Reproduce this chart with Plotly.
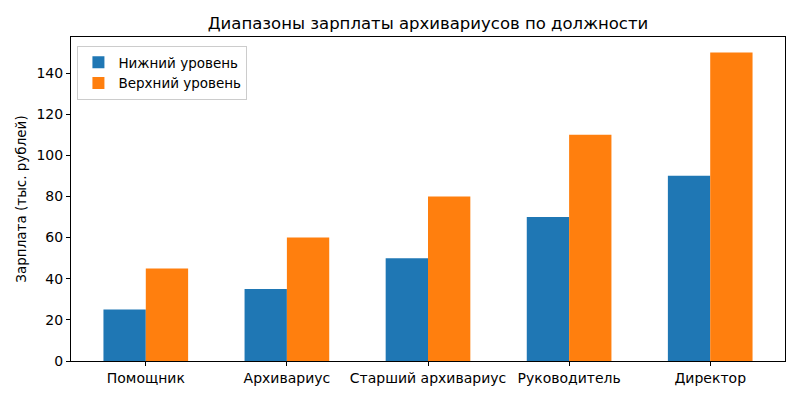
import plotly.graph_objects as go

categories = ["Помощник", "Архивариус", "Старший архивариус", "Руководитель", "Директор"]
lower = [25, 35, 50, 70, 90]
upper = [45, 60, 80, 110, 150]
positions = list(range(len(categories)))

# page body has an 8px margin, so the figure is drawn offset by (8, 8)
fig = go.Figure()
fig.add_trace(go.Bar(x=positions, y=lower, name="Нижний уровень", width=0.3, offset=-0.3,
                     marker=dict(color="#1f77b4", line=dict(width=0))))
fig.add_trace(go.Bar(x=positions, y=upper, name="Верхний уровень", width=0.3, offset=0,
                     marker=dict(color="#ff7f0e", line=dict(width=0))))

fig.update_layout(
    width=800, height=400,
    barmode="overlay",
    margin=dict(l=63, r=23, t=29, b=47, autoexpand=False),
    paper_bgcolor="white", plot_bgcolor="white",
    font=dict(family="DejaVu Sans", size=14, color="black"),
    title=dict(text="Диапазоны зарплаты архивариусов по должности", x=0.5, xanchor="center",
               xref="paper", y=1 - 15/400, yanchor="middle", font=dict(size=16.5)),
    legend=dict(x=0.009, y=0.972, xanchor="left", yanchor="top", bgcolor="rgba(255,255,255,0.8)",
                bordercolor="#cccccc", borderwidth=1, font=dict(size=13.5), itemwidth=30,
                tracegroupgap=0),
    showlegend=True,
)
fig.update_xaxes(range=[-0.53, 4.53], tickvals=positions, ticktext=categories, automargin=False,
                 showline=True, linecolor="black", linewidth=1, mirror=True, tickfont=dict(size=14),
                 ticks="outside", ticklen=4, tickcolor="black", showgrid=False, zeroline=False)
fig.update_yaxes(range=[0, 157.5], tickvals=[0, 20, 40, 60, 80, 100, 120, 140], automargin=False,
                 title=dict(text="Зарплата (тыс. рублей)", standoff=6, font=dict(size=13.5)),
                 showline=True, linecolor="black", linewidth=1, mirror=True, tickfont=dict(size=14),
                 ticks="outside", ticklen=4, tickcolor="black", showgrid=False, zeroline=False)

fig.write_html("out.html")
